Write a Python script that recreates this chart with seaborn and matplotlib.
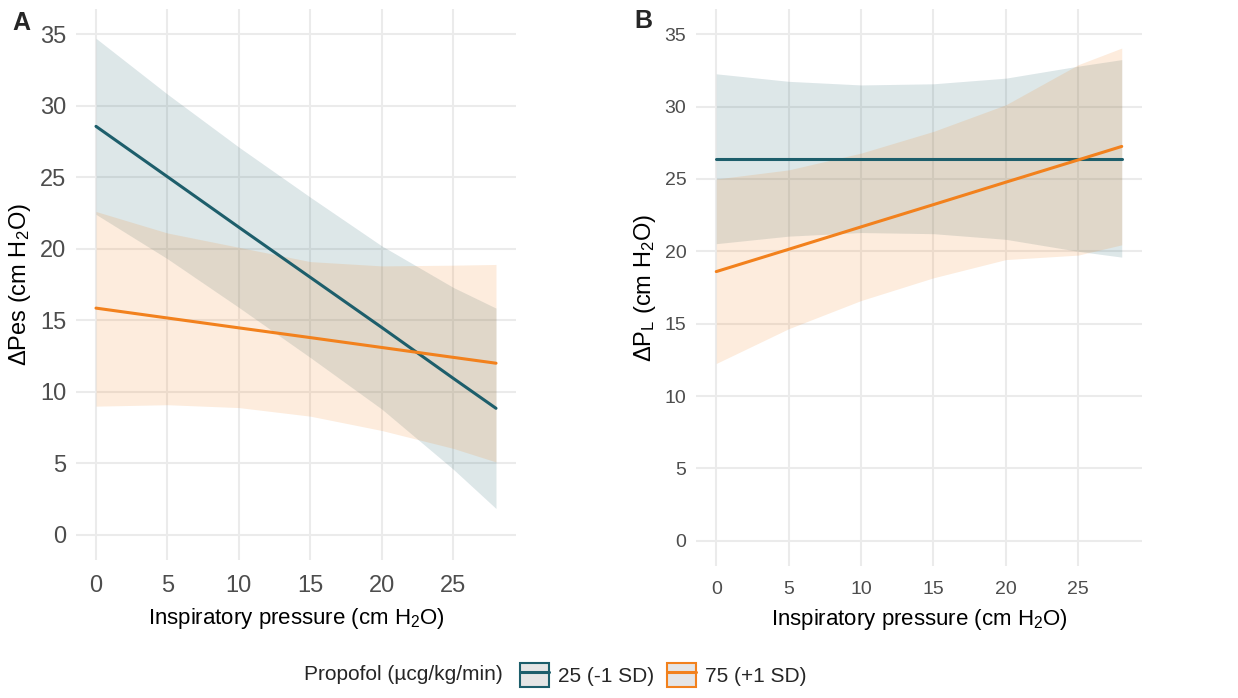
import matplotlib
matplotlib.use("Agg")
import matplotlib.pyplot as plt
from matplotlib.patches import Patch
from matplotlib.lines import Line2D
from matplotlib.legend_handler import HandlerTuple
import seaborn as sns
import pandas as pd

pressure = [0, 5, 10, 15, 20, 25, 28]
groups = ["25 (-1 SD)", "75 (+1 SD)"]

# panel A: delta Pes
pes_fit_low = [28.55, 25.03, 21.5, 18.0, 14.5, 10.95, 8.85]
pes_lo_low = [22.4, 19.3, 15.9, 12.4, 8.8, 4.6, 1.85]
pes_hi_low = [34.7, 30.8, 27.1, 23.6, 20.2, 17.3, 15.85]
pes_fit_high = [15.85, 15.16, 14.47, 13.79, 13.1, 12.41, 12.0]
pes_lo_high = [9.0, 9.1, 8.9, 8.3, 7.3, 6.05, 5.1]
pes_hi_high = [22.6, 21.1, 20.1, 19.1, 18.8, 18.85, 18.9]

# panel B: delta PL
pl_fit_low = [26.4, 26.4, 26.4, 26.4, 26.4, 26.4, 26.4]
pl_lo_low = [20.53, 21.05, 21.3, 21.22, 20.83, 20.0, 19.6]
pl_hi_low = [32.27, 31.75, 31.5, 31.58, 31.97, 32.8, 33.25]
pl_fit_high = [18.6, 20.14, 21.69, 23.23, 24.78, 26.32, 27.25]
pl_lo_high = [12.25, 14.65, 16.6, 18.17, 19.43, 19.74, 20.45]
pl_hi_high = [25.0, 25.63, 26.79, 28.29, 30.13, 32.9, 34.05]

x_ticks = [0, 5, 10, 15, 20, 25]
y_ticks = [0, 5, 10, 15, 20, 25, 30, 35]

TEAL = "#1D5E6B"
ORANGE = "#F2811D"
palette = {groups[0]: TEAL, groups[1]: ORANGE}

sns.set_theme(style="whitegrid")
plt.rcParams["font.family"] = ["Liberation Sans", "DejaVu Sans"]
plt.rcParams["mathtext.fontset"] = "custom"
plt.rcParams["mathtext.rm"] = "Liberation Sans"
plt.rcParams["mathtext.it"] = "Liberation Sans:italic"


def make_df(fit_low, lo_low, hi_low, fit_high, lo_high, hi_high):
    rows = []
    for g, fit, lo, hi in [(groups[0], fit_low, lo_low, hi_low),
                           (groups[1], fit_high, lo_high, hi_high)]:
        for x, f, l, h in zip(pressure, fit, lo, hi):
            rows.append({"pressure": x, "fit": f, "lower": l, "upper": h, "group": g})
    return pd.DataFrame(rows)


df_a = make_df(pes_fit_low, pes_lo_low, pes_hi_low, pes_fit_high, pes_lo_high, pes_hi_high)
df_b = make_df(pl_fit_low, pl_lo_low, pl_hi_low, pl_fit_high, pl_lo_high, pl_hi_high)

fig = plt.figure(figsize=(12.38, 6.98), dpi=100)
ax_a = fig.add_axes([76 / 1238, 1 - 560 / 698, 440 / 1238, 551 / 698])
ax_b = fig.add_axes([696 / 1238, 1 - 566 / 698, 446 / 1238, 557 / 698])


def draw_panel(ax, df, ylabel, tick_size):
    for g in groups:
        sub = df[df["group"] == g]
        ax.fill_between(sub["pressure"], sub["lower"], sub["upper"],
                        color=palette[g], alpha=0.15, linewidth=0)
        sns.lineplot(data=sub, x="pressure", y="fit", color=palette[g],
                     linewidth=2.2, ax=ax, legend=False)
    ax.set_xlim(-1.4, 29.4)
    ax.set_ylim(-1.75, 36.75)
    ax.set_xticks(x_ticks)
    ax.set_yticks(y_ticks)
    ax.grid(True, color="#EBEBEB", linewidth=1.5)
    for s in ax.spines.values():
        s.set_visible(False)
    ax.tick_params(axis="both", length=0, labelsize=tick_size, labelcolor="#4D4D4D")
    ax.tick_params(axis="y", pad=7)
    ax.tick_params(axis="x", pad=11)
    ax.set_xlabel("Inspiratory pressure (cm H$_2$O)", fontsize=16, color="black", labelpad=6)
    ax.set_ylabel(ylabel, fontsize=17, color="black", labelpad=5)


draw_panel(ax_a, df_a, "ΔPes (cm H$_2$O)", 17)
draw_panel(ax_b, df_b, "ΔP$_\\mathregular{L}$ (cm H$_2$O)", 14)

fig.text(12 / 1238, 1 - 23 / 698, "A", fontsize=18, fontweight="bold", va="center", ha="left")
fig.text(634 / 1238, 1 - 21 / 698, "B", fontsize=18, fontweight="bold", va="center", ha="left")

# legend along the bottom
handles = [(Patch(facecolor="#E5E5E5", edgecolor=palette[g], linewidth=1.5),
            Line2D([], [], color=palette[g], linewidth=2.2)) for g in groups]
fig.text(503 / 1238, 1 - 675 / 698, "Propofol (µcg/kg/min)", fontsize=15,
         ha="right", va="center")
fig.legend(handles, groups, handler_map={tuple: HandlerTuple(ndivide=1)},
           loc="center left", bbox_to_anchor=(505 / 1238, 1 - 675 / 698),
           ncol=2, frameon=False, fontsize=15, handlelength=1.4, handleheight=1.45,
           handletextpad=0.45, columnspacing=0.6, borderpad=0.2)

fig.savefig("out.png", dpi=100)
